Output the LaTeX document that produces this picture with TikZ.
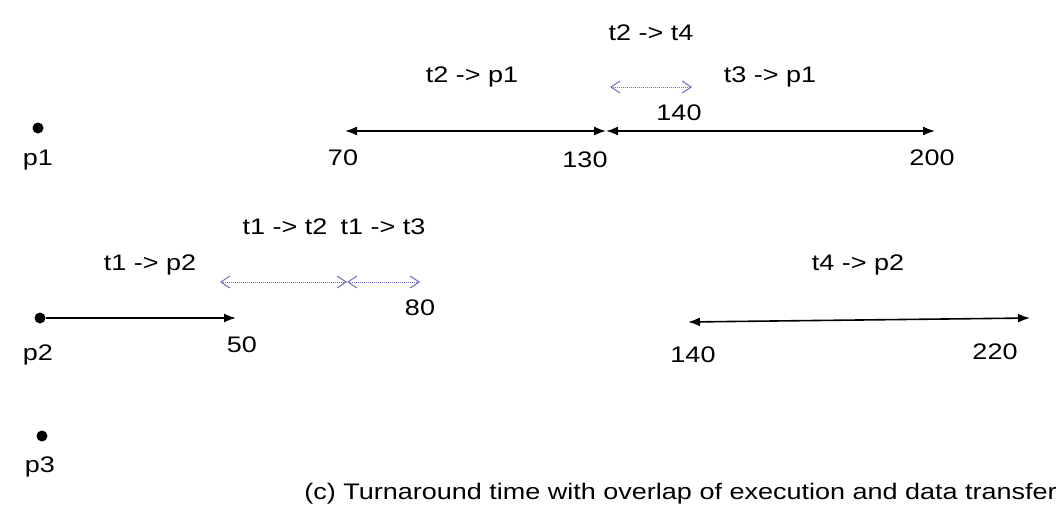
\documentclass[tikz,border=0pt]{standalone}
\usepackage{fontspec}
\setmainfont[FakeStretch=1.2]{Liberation Sans}
\usetikzlibrary{arrows.meta}

\tikzset{
  lbl/.style={font=\fontsize{22.5}{26}\selectfont, inner sep=1pt},
  dot/.style={circle, fill=black, inner sep=0pt, minimum size=11pt},
  run/.style={line width=1.6pt, {Latex[length=12pt,width=9pt]}-{Latex[length=12pt,width=9pt]}},
  xfer/.style={line width=1pt, densely dotted, blue!45!gray!80, {Straight Barb[length=9pt,width=12pt]}-{Straight Barb[length=9pt,width=12pt]}}
}

\begin{document}
\begin{tikzpicture}[x=1pt,y=-1pt]
    \useasboundingbox (0,0) rectangle (1062,519);
    % processors
    \node[dot] (p1) at (38,128) {};
    \node[lbl] (p1l) at (38,160) {p1};
    \node[dot] (p2) at (40,318) {};
    \node[lbl] (p2l) at (38,355) {p2};
    \node[dot] (p3) at (42,436) {};
    \node[lbl] (p3l) at (40,467) {p3};
    % p1 row
    \coordinate (a70) at (345,131);
    \coordinate (a130) at (606,131);
    \coordinate (a200) at (935,131);
    \draw[run] (a70) -- (a130);
    \draw[run] (a130) -- (a200);
    \node[lbl] (n70) at (343,158) {70};
    \node[lbl] (n130) at (585,160) {130};
    \node[lbl] (n200) at (932,158) {200};
    \node[lbl] (t2p1) at (472,77) {t2 -> p1};
    \node[lbl] (t3p1) at (770,77) {t3 -> p1};
    \node[lbl] (t2t4) at (651,33) {t2 -> t4};
    \coordinate (b1) at (610,87);
    \coordinate (b2) at (692,87);
    \draw[xfer] (b1) -- (b2);
    \node[lbl] (n140a) at (679,113) {140};
    % p2 row
    \coordinate (c50) at (236,318);
    \draw[line width=1.6pt, -{Latex[length=12pt,width=9pt]}] (p2) -- (c50);
    \node[lbl] (n50) at (242,345) {50};
    \node[lbl] (t1p2) at (150,265) {t1 -> p2};
    \coordinate (d1) at (220,282);
    \coordinate (d2) at (347,282);
    \coordinate (d3) at (420,282);
    \draw[xfer] (d1) -- (d2);
    \draw[xfer] (d2) -- (d3);
    \node[lbl] (t1t2) at (285,227) {t1 -> t2};
    \node[lbl] (t1t3) at (383,227) {t1 -> t3};
    \node[lbl] (n80) at (420,308) {80};
    \coordinate (e140) at (688,322);
    \coordinate (e220) at (1030,318);
    \draw[run] (e140) -- (e220);
    \node[lbl] (n140b) at (693,355) {140};
    \node[lbl] (n220) at (995,352) {220};
    \node[lbl] (t4p2) at (858,265) {t4 -> p2};
    % caption
    \node[lbl, anchor=east] (cap) at (1058,494) {(c) Turnaround time with overlap of execution and data transfer};
\end{tikzpicture}
\end{document}
